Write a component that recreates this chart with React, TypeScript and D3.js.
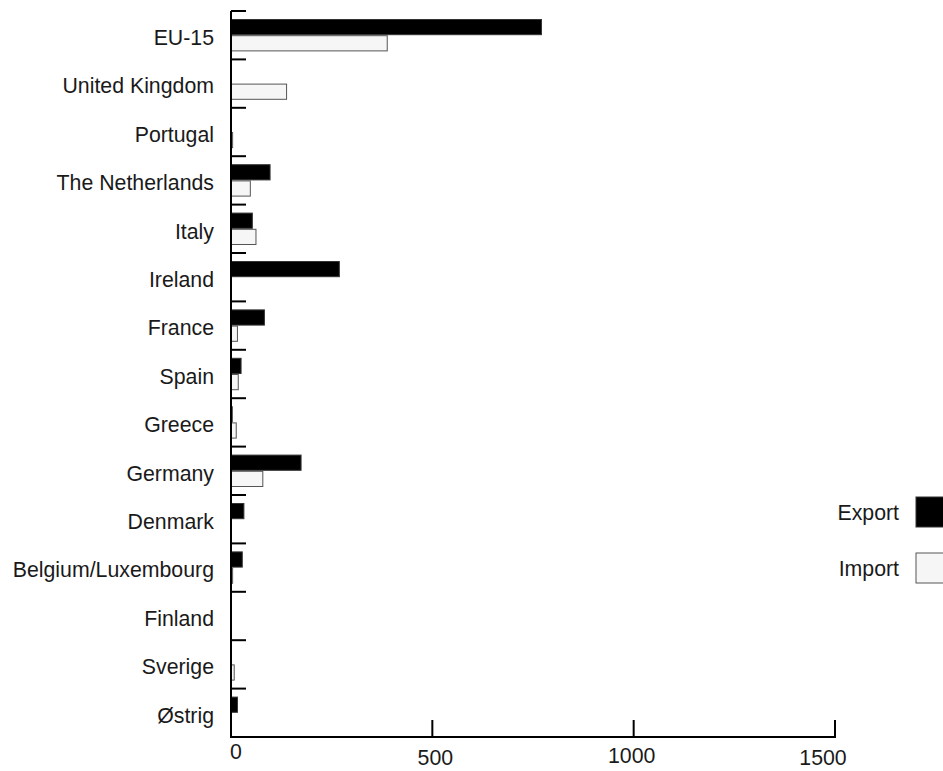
import React from "react";
import * as d3 from "d3";

const categories = [
  "EU-15",
  "United Kingdom",
  "Portugal",
  "The Netherlands",
  "Italy",
  "Ireland",
  "France",
  "Spain",
  "Greece",
  "Germany",
  "Denmark",
  "Belgium/Luxembourg",
  "Finland",
  "Sverige",
  "Østrig",
];
const exportValues = [771, 0, 0, 97, 53, 269, 83, 25, 3, 174, 32, 28, 0, 0, 16];
const importValues = [388, 138, 4, 48, 62, 1, 16, 18, 13, 79, 0, 4, 0, 8, 0];
const xTicks = [0, 500, 1000, 1500];
const seriesNames = ["Export", "Import"];

// layout
const W = 943;
const H = 771;
const left = 231;
const top = 11;
const bottom = 737;
const FS = 21.3;
const FONT = "'Liberation Sans', Arial, Helvetica, sans-serif";
const tickLabelBaselines = [759, 765, 763, 765];
const tickLabelShift = [5, 3, -2, -12];

export default function App() {
  const x = d3.scaleLinear().domain([0, 1500]).range([left, 835]);
  const y = d3.scaleBand<string>().domain(categories).range([top, bottom]).padding(0);
  const bw = y.bandwidth();
  const pad = 8;
  const bh = (bw - 2 * pad) / 2;

  const fills = ["#000000", "#f6f6f6"];
  const strokes = ["#333333", "#555555"];
  const series = [exportValues, importValues];

  return (
    <svg
      width={W}
      height={H}
      style={{ position: "absolute", left: 0, top: 0, background: "#fff" }}
      fontFamily={FONT}
    >
      {categories.map((c, i) =>
        series.map((vals, s) => {
          const v = vals[i];
          if (!v) return null;
          const y0 = (y(c) as number) + pad + s * bh;
          return (
            <rect
              key={c + s}
              x={x(0)}
              y={y0 + 0.5}
              width={Math.max(x(v) - x(0), 0.5)}
              height={bh - 1}
              fill={fills[s]}
              stroke={strokes[s]}
              strokeWidth={1}
            />
          );
        })
      )}
      <line x1={left} x2={left} y1={top} y2={bottom + 1} stroke="#000" strokeWidth={2} />
      {d3.range(categories.length).map((i) => {
        const yy = top + i * bw;
        return (
          <line key={"yt" + i} x1={left} x2={left + 15} y1={yy} y2={yy} stroke="#000" strokeWidth={2} />
        );
      })}
      {categories.map((c) => (
        <text
          key={"lab" + c}
          x={214}
          y={(y(c) as number) + bw / 2 + 9.8}
          textAnchor="end"
          fontSize={FS}
          fill="#1a1a1a"
        >
          {c}
        </text>
      ))}
      <line x1={left - 1} x2={x(1500) + 1} y1={bottom} y2={bottom} stroke="#000" strokeWidth={2} />
      {xTicks.map((t) =>
        t === 0 ? null : (
          <line key={"xt" + t} x1={x(t)} x2={x(t)} y1={bottom} y2={bottom - 17} stroke="#000" strokeWidth={2} />
        )
      )}
      {xTicks.map((t, i) => (
        <text
          key={"xl" + t}
          x={x(t) + tickLabelShift[i]}
          y={tickLabelBaselines[i]}
          textAnchor="middle"
          fontSize={FS}
          fill="#1a1a1a"
        >
          {t}
        </text>
      ))}
      {seriesNames.map((n, s) => {
        const cy = 512 + s * 56;
        return (
          <g key={"lg" + n}>
            <rect x={916} y={cy - 15} width={40} height={30} fill={fills[s]} stroke={strokes[s]} strokeWidth={1} />
            <text x={899} y={cy + 7.5} textAnchor="end" fontSize={FS} fill="#1a1a1a">
              {n}
            </text>
          </g>
        );
      })}
    </svg>
  );
}
